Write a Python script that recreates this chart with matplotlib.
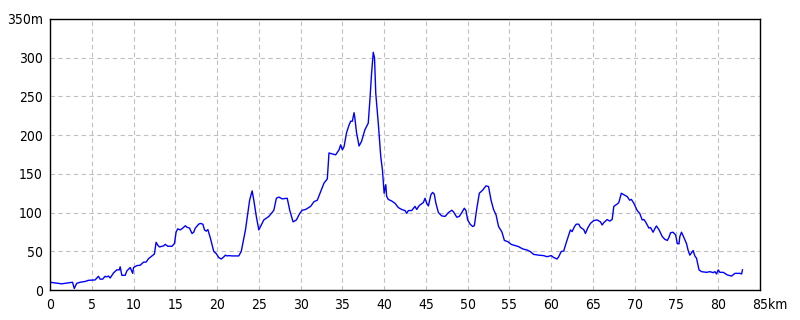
#!/usr/bin/env python3
import matplotlib
matplotlib.use("Agg")
import matplotlib.pyplot as plt
from matplotlib import font_manager
import numpy as np

# elevation profile (km, m)
km = [0.0, 1.4, 2.4, 2.7, 2.9, 3.2, 3.6, 4.2, 4.6, 5.4, 5.8, 6.0, 6.3, 6.6, 6.8, 7.0, 7.2,
      7.6, 8.0, 8.3, 8.4, 8.6, 9.0, 9.2, 9.6, 9.9, 10.0, 10.4, 10.8, 11.2, 11.5, 11.8,
      12.2, 12.5, 12.7, 12.9, 13.1, 13.6, 13.8, 14.1, 14.6, 14.9, 15.1, 15.3, 15.6,
      15.9, 16.2, 16.4, 16.7, 17.0, 17.2, 17.4, 17.8, 18.0, 18.3, 18.5, 18.7, 18.9,
      19.2, 19.6, 19.9, 20.2, 20.5, 20.8, 21.0, 21.2, 21.4, 21.8, 22.6, 22.9, 23.4,
      23.9, 24.2, 24.4, 24.7, 25.0, 25.2, 25.6, 26.2, 26.8, 27.1, 27.4, 27.8, 28.4,
      28.7, 29.1, 29.5, 29.9, 30.2, 30.6, 31.2, 31.6, 32.0, 32.4, 32.8, 33.2, 33.4,
      33.7, 34.2, 34.6, 34.8, 35.0, 35.2, 35.5, 35.8, 36.0, 36.2, 36.4, 36.5, 36.7,
      37.0, 37.3, 37.7, 38.1, 38.3, 38.5, 38.7, 38.85, 39.0, 39.3, 39.6, 39.8, 40.0,
      40.2, 40.3, 40.5, 40.9, 41.3, 41.7, 42.1, 42.5, 42.7, 42.9, 43.3, 43.7, 43.9,
      44.2, 44.7, 44.9, 45.1, 45.3, 45.6, 45.8, 46.0, 46.2, 46.5, 46.9, 47.3, 47.7,
      48.1, 48.3, 48.7, 49.0, 49.3, 49.6, 49.8, 50.0, 50.3, 50.6, 50.8, 51.1, 51.4,
      51.8, 52.2, 52.5, 52.8, 53.1, 53.4, 53.7, 54.1, 54.4, 54.8, 55.2, 55.8, 56.1,
      56.6, 57.1, 57.5, 57.9, 58.5, 59.1, 59.5, 60.0, 60.3, 60.7, 60.9, 61.2, 61.5,
      61.8, 62.1, 62.3, 62.5, 62.8, 63.0, 63.3, 63.5, 63.9, 64.1, 64.4, 64.7, 65.1,
      65.5, 65.9, 66.1, 66.3, 66.7, 67.0, 67.3, 67.5, 67.9, 68.1, 68.4, 68.7, 69.1,
      69.4, 69.6, 69.9, 70.3, 70.6, 70.9, 71.1, 71.3, 71.5, 71.7, 71.9, 72.2, 72.4,
      72.6, 72.9, 73.3, 73.6, 73.9, 74.1, 74.3, 74.6, 74.9, 75.1, 75.3, 75.4, 75.6,
      75.8, 76.2, 76.4, 76.6, 76.8, 77.0, 77.2, 77.4, 77.7, 78.0, 78.6, 79.0, 79.4,
      79.6, 79.8, 80.0, 80.2, 80.6, 81.1, 81.6, 82.0, 82.6, 82.8, 82.9]
elev = [10, 8, 9.5, 10, 2, 8.6, 10, 11, 12.5, 13, 17.7, 14, 14, 17.7, 17, 18, 15.5,
        22, 26, 26, 30, 19, 19, 24.6, 29, 21.5, 29, 31.5, 32, 36, 36, 40.5,
        44, 46.5, 61.6, 58, 55.6, 57, 59, 56.5, 56.5, 60, 75, 79, 77.6,
        80, 83, 81, 80, 73, 74.6, 80, 85, 86, 85, 77.6, 76, 78,
        67, 50, 47, 42, 40, 42.7, 45, 44, 44.4, 44, 44, 50, 77.6,
        116, 128, 116, 95, 77.6, 82, 90.5, 95, 103, 118.5, 120, 117.7, 118.5,
        103, 88, 90.5, 99, 103, 104, 108, 114, 116, 127, 138, 143.5, 177,
        176, 174.6, 181, 187.5, 181, 185, 203, 213, 218, 218, 229, 222, 203,
        186, 192, 207, 215.5, 245.7, 280, 307, 300, 254, 215.5, 172, 155, 125,
        136, 121, 117, 115, 112, 106.5, 104, 102.6, 99, 102.6, 102.6, 108, 104,
        109, 113, 118.5, 112, 108.6, 123, 126, 124, 112, 100, 95.7, 95, 100,
        103, 101, 94, 95, 100, 105.6, 102.6, 90.5, 85, 82, 83, 105.6, 125,
        129, 134.5, 133.6, 116, 104, 97, 82, 75, 64, 62.5, 59, 57, 56,
        53, 51.7, 49.6, 46, 45, 44.4, 43, 44.4, 42, 40, 43, 49.6, 50.4,
        61, 71, 77.6, 75.4, 82, 85, 85, 81, 78, 73, 80.6, 86, 89.7,
        90.5, 88, 84, 87, 91, 89, 91, 108, 111, 113, 125, 123, 120.7,
        116, 117, 112, 102.6, 99, 90.5, 91, 88, 84, 80, 80.6, 74.6, 79,
        82.7, 78, 69, 65.5, 64, 68, 74, 74.6, 71, 60, 59.5, 69, 74.6,
        70, 60, 51, 45, 48, 51, 44, 41, 26, 23.7, 22.8, 23.7, 22.4,
        23.7, 20.7, 26, 22.8, 22.8, 19.4, 18, 21.5, 21.5, 20.7, 26]

x_ticks = list(range(0, 90, 5))
x_labels = [str(v) for v in x_ticks[:-1]] + ["85km"]
y_ticks = list(range(0, 400, 50))
y_labels = [str(v) for v in y_ticks[:-1]] + ["350m"]

names = {f.name for f in font_manager.fontManager.ttflist}
if 'Liberation Sans Narrow' in names:
    plt.rcParams['font.family'] = ['Liberation Sans Narrow']
    lab_size = 11
else:
    plt.rcParams['font.family'] = ['DejaVu Sans']
    plt.rcParams['font.stretch'] = 'condensed'
    lab_size = 10

fig = plt.figure(figsize=(8, 3.2), dpi=100)
ax = fig.add_axes([50 / 800, 30 / 320, 710 / 800, 271 / 320])

ax.plot(km, elev, color='#0000ff', lw=1.0)

ax.set_xlim(0, 85)
ax.set_ylim(0, 350)
ax.set_xticks(x_ticks)
ax.set_xticklabels(x_labels)
ax.set_yticks(y_ticks)
ax.set_yticklabels(y_labels)
ax.tick_params(length=0, labelsize=lab_size, colors='black')
ax.tick_params(axis='x', pad=6)
ax.tick_params(axis='y', pad=5)
ax.grid(True, color='#c0c0c0', lw=0.8, linestyle=(0, (4, 3)))
ax.set_axisbelow(True)
for s in ax.spines.values():
    s.set_color('black')
    s.set_linewidth(1.0)

# "85km": keep the digits centred on the 85 grid line
fig.canvas.draw()
last = ax.get_xticklabels()[-1]
r = fig.canvas.get_renderer()
w_all = last.get_window_extent(r).width
tmp = ax.text(0, 0, "85", fontsize=lab_size)
w_num = tmp.get_window_extent(r).width
tmp.remove()
last.set_horizontalalignment('left')
last.set_x(85)
from matplotlib.transforms import offset_copy
last.set_transform(offset_copy(last.get_transform(), fig=fig, x=-w_num / 2, y=0, units='dots'))

fig.savefig("out.png", dpi=100)
